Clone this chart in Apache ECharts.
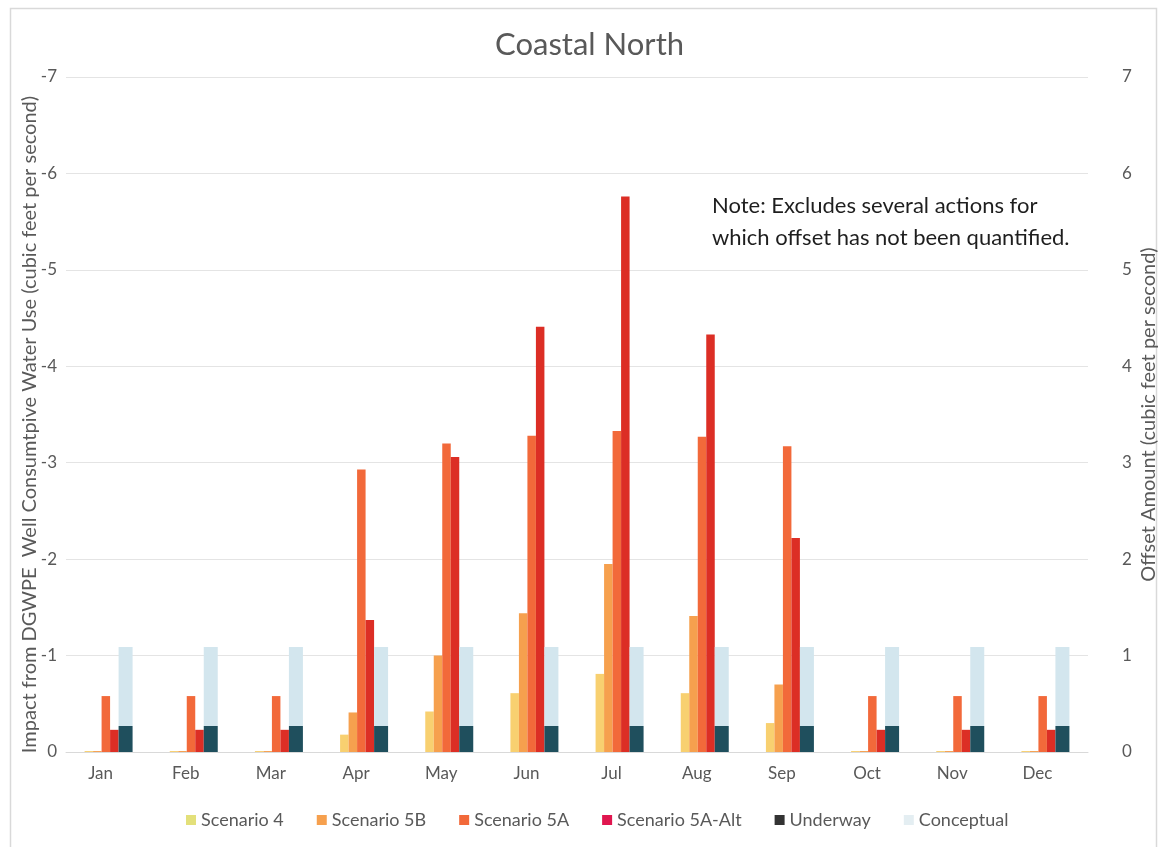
<!DOCTYPE html>
<html>
<head>
<meta charset="utf-8">
<title>Coastal North</title>
<script src="https://cdn.jsdelivr.net/npm/echarts@6/dist/echarts.min.js"></script>
<style>
  html, body { margin: 0; padding: 0; background: #ffffff; }
  #chart { width: 1161px; height: 847px; }
</style>
</head>
<body>
<div id="chart"></div>
<script>
// Monthly categories
const months = ['Jan', 'Feb', 'Mar', 'Apr', 'May', 'Jun', 'Jul', 'Aug', 'Sep', 'Oct', 'Nov', 'Dec'];

// Impact from DGWPE well consumptive water use (cfs), plotted upward, labelled negative
const scenario4     = [0.01, 0.01, 0.01, 0.18, 0.42, 0.61, 0.81, 0.61, 0.30, 0.01, 0.01, 0.01];
const scenario5B    = [0.01, 0.01, 0.01, 0.41, 1.00, 1.44, 1.95, 1.41, 0.70, 0.01, 0.01, 0.01];
const scenario5A    = [0.58, 0.58, 0.58, 2.93, 3.20, 3.28, 3.33, 3.27, 3.17, 0.58, 0.58, 0.58];
const scenario5AAlt = [0.23, 0.23, 0.23, 1.37, 3.06, 4.41, 5.76, 4.33, 2.22, 0.23, 0.23, 0.23];

// Offset amount (cfs): underway actions, with conceptual actions stacked on top
const underway   = [0.27, 0.27, 0.27, 0.27, 0.27, 0.27, 0.27, 0.27, 0.27, 0.27, 0.27, 0.27];
const conceptual = [0.82, 0.82, 0.82, 0.82, 0.82, 0.82, 0.82, 0.82, 0.82, 0.82, 0.82, 0.82];

// Axis tick values
const leftTicks  = [0, 1, 2, 3, 4, 5, 6, 7];
const rightTicks = [0, 1, 2, 3, 4, 5, 6, 7];

const FONT = 'Lato, "Open Sans", sans-serif';
const GREY = '#595959';

const colors = {
  s4: '#f8d070',
  s5b: '#f6a04e',
  s5a: '#f2693a',
  s5aAlt: '#dc2e25',
  underway: '#1f4f5d',
  conceptual: '#d3e6ee'
};

const chart = echarts.init(document.getElementById('chart'), null, { renderer: 'canvas' });

const option = {
  backgroundColor: '#ffffff',
  animation: false,
  title: {
    text: 'Coastal North',
    left: 490,
    top: 24,
    textStyle: { fontFamily: FONT, fontSize: 31, fontWeight: 'normal', color: GREY }
  },
  legend: {
    bottom: 13,
    left: 181,
    itemWidth: 10,
    itemHeight: 10,
    itemGap: 33,
    icon: 'rect',
    textStyle: { fontFamily: FONT, fontSize: 18, color: GREY },
    data: [
      { name: 'Scenario 4', itemStyle: { color: '#e3e07a' } },
      { name: 'Scenario 5B', itemStyle: { color: colors.s5b } },
      { name: 'Scenario 5A', itemStyle: { color: colors.s5a } },
      { name: 'Scenario 5A-Alt', itemStyle: { color: '#e0164f' } },
      { name: 'Underway', itemStyle: { color: '#333333' } },
      { name: 'Conceptual', itemStyle: { color: '#e4eef2' } }
    ]
  },
  grid: { left: 66, top: 77, width: 1022, height: 675, outerBoundsMode: 'none', containLabel: false },
  xAxis: {
    type: 'category',
    data: months,
    axisTick: { show: false },
    axisLine: { show: true, lineStyle: { color: '#d9d9d9' } },
    axisLabel: { fontFamily: FONT, fontSize: 17, color: GREY, margin: 13, padding: [0, 16, 0, 0] }
  },
  yAxis: [
    {
      type: 'value',
      min: leftTicks[0],
      max: leftTicks[leftTicks.length - 1],
      interval: 1,
      position: 'left',
      name: 'Impact from DGWPE  Well Consumtpive Water Use (cubic feet per second)',
      nameLocation: 'middle',
      nameRotate: 90,
      nameGap: 26,
      nameMoveOverlap: false,
      nameTextStyle: { fontFamily: FONT, fontSize: 20, color: GREY, padding: [0, 20, 0, 0] },
      axisLine: { show: false },
      axisTick: { show: false },
      axisLabel: {
        fontFamily: FONT, fontSize: 17, color: GREY, margin: 9,
        formatter: v => (v === 0 ? '0' : '-' + v)
      },
      splitLine: { show: true, lineStyle: { color: '#e4e4e4', width: 1 } }
    },
    {
      type: 'value',
      min: rightTicks[0],
      max: rightTicks[rightTicks.length - 1],
      interval: 1,
      position: 'right',
      name: 'Offset Amount (cubic feet per second)',
      nameLocation: 'middle',
      nameRotate: 90,
      nameGap: 51,
      nameMoveOverlap: false,
      nameTextStyle: { fontFamily: FONT, fontSize: 20, color: GREY },
      axisLine: { show: false },
      axisTick: { show: false },
      axisLabel: { fontFamily: FONT, fontSize: 17, color: GREY, margin: 34, align: 'left' },
      splitLine: { show: false }
    }
  ],
  series: [
    { name: 'Scenario 4', type: 'bar', yAxisIndex: 0, data: scenario4, barWidth: 8.5, barGap: '0%', itemStyle: { color: colors.s4 } },
    { name: 'Scenario 5B', type: 'bar', yAxisIndex: 0, data: scenario5B, barWidth: 8.5, barGap: '0%', itemStyle: { color: colors.s5b } },
    { name: 'Scenario 5A', type: 'bar', yAxisIndex: 0, data: scenario5A, barWidth: 8.5, barGap: '0%', itemStyle: { color: colors.s5a } },
    { name: 'Scenario 5A-Alt', type: 'bar', yAxisIndex: 0, data: scenario5AAlt, barWidth: 8.5, barGap: '0%', itemStyle: { color: colors.s5aAlt } },
    { name: 'Underway', type: 'bar', yAxisIndex: 1, stack: 'offset', data: underway, barWidth: 14, barGap: '0%', itemStyle: { color: colors.underway } },
    { name: 'Conceptual', type: 'bar', yAxisIndex: 1, stack: 'offset', data: conceptual, barWidth: 14, barGap: '0%', itemStyle: { color: colors.conceptual } }
  ],
  graphic: [
    {
      type: 'rect',
      left: 8, top: 6,
      shape: { width: 1146, height: 860 },
      style: { fill: 'none', stroke: '#d9d9d9', lineWidth: 1.5 },
      silent: true
    },
    {
      type: 'text',
      left: 712, top: 190,
      style: {
        text: 'Note: Excludes several actions for\nwhich offset has not been quantified.',
        font: '22px ' + FONT,
        fill: '#1e1e1e',
        lineHeight: 32
      }
    }
  ]
};

chart.setOption(option);
</script>
</body>
</html>
